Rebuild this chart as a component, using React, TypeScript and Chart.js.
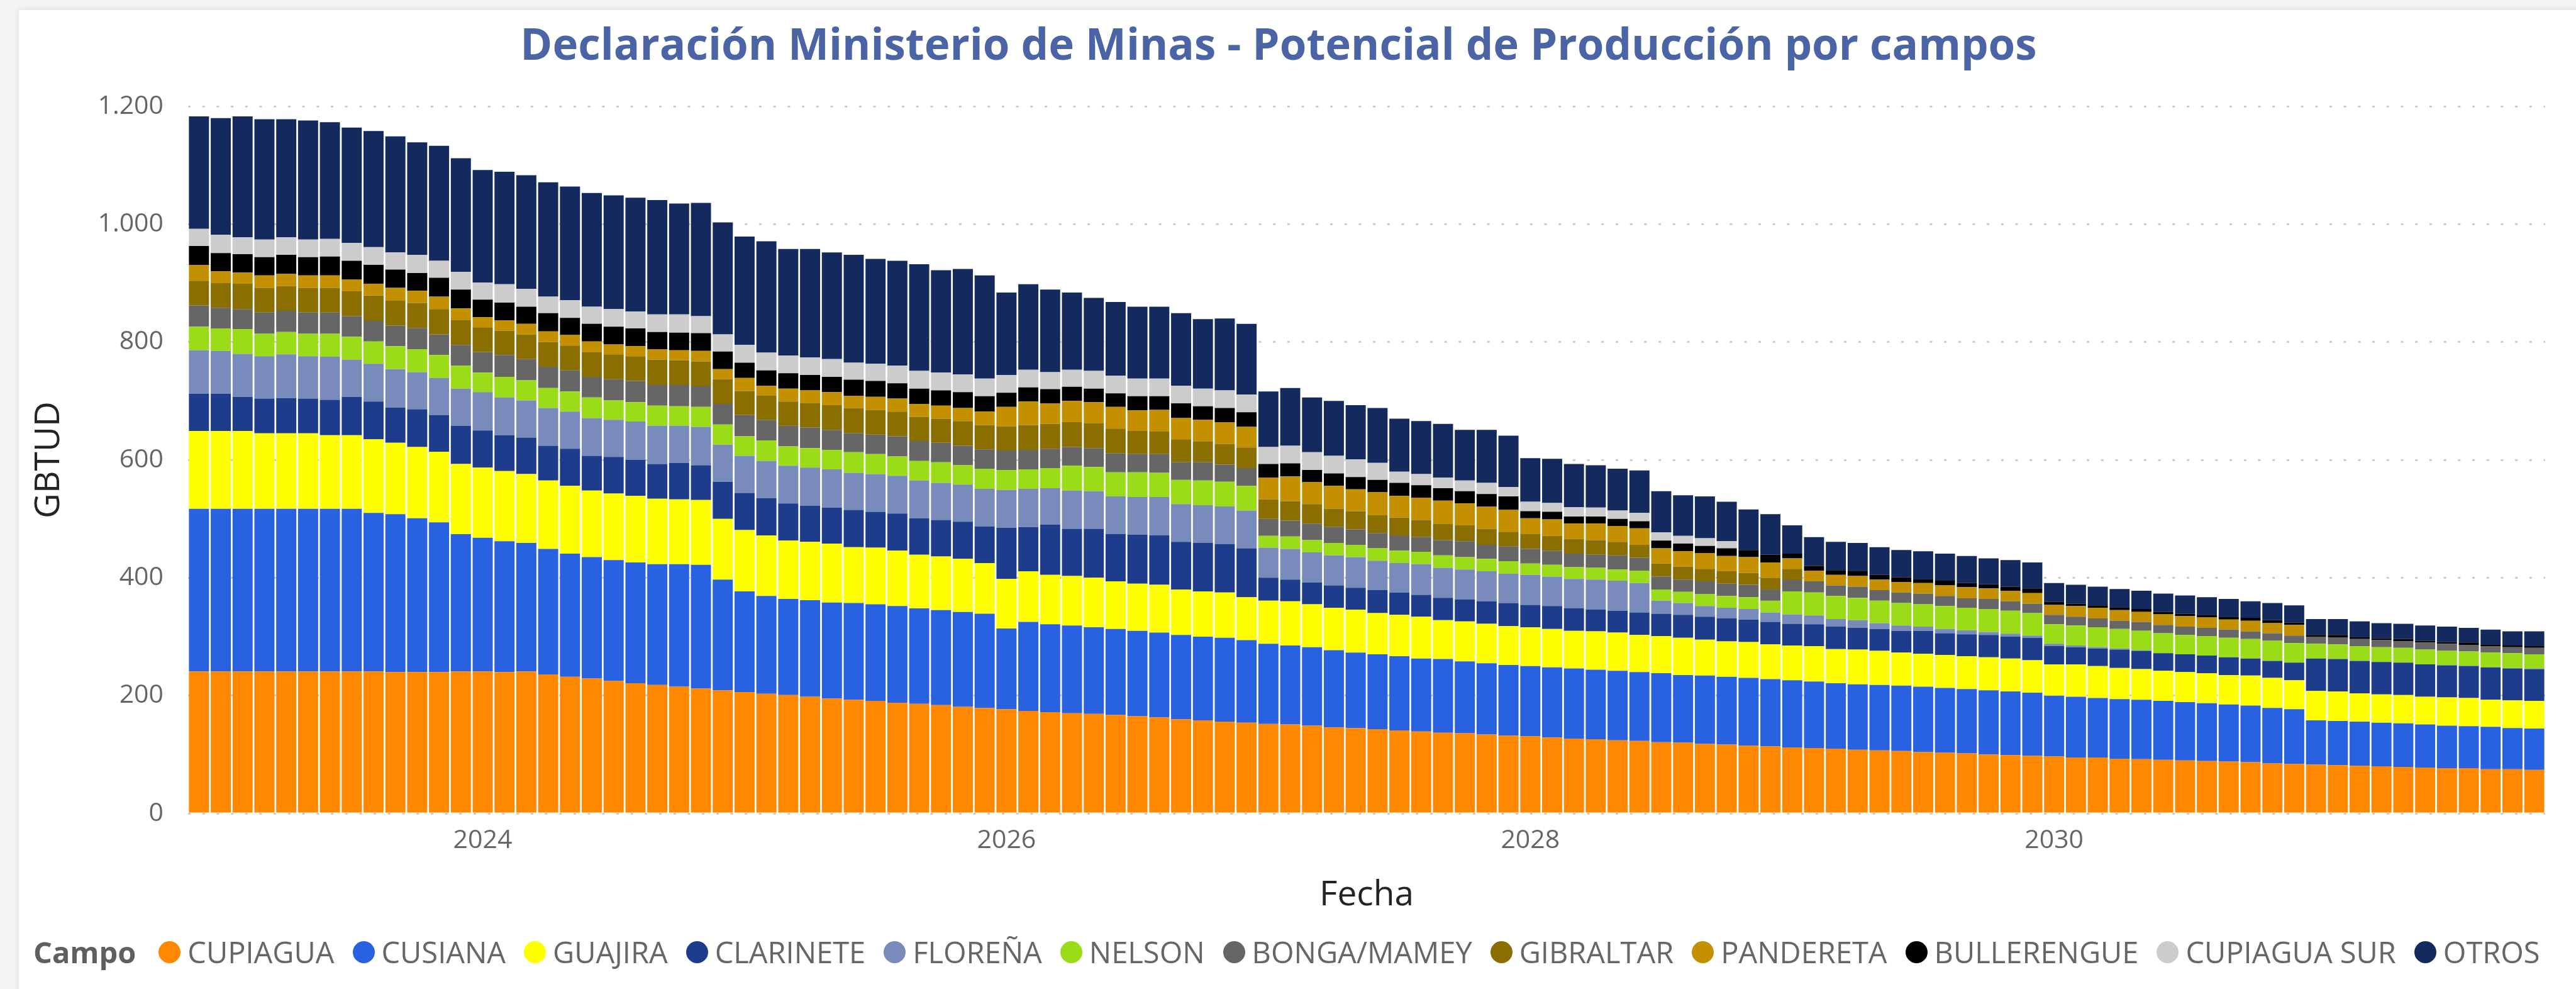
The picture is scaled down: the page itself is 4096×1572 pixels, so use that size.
import React, { useEffect, useRef } from "react";
import { Chart, registerables } from "chart.js";

Chart.register(...registerables);

// ---------- DATA ----------
const months = (
  "2022-12 " +
  "2023-01 2023-02 2023-03 2023-04 2023-05 2023-06 2023-07 2023-08 2023-09 2023-10 2023-11 2023-12 " +
  "2024-01 2024-02 2024-03 2024-04 2024-05 2024-06 2024-07 2024-08 2024-09 2024-10 2024-11 2024-12 " +
  "2025-01 2025-02 2025-03 2025-04 2025-05 2025-06 2025-07 2025-08 2025-09 2025-10 2025-11 2025-12 " +
  "2026-01 2026-02 2026-03 2026-04 2026-05 2026-06 2026-07 2026-08 2026-09 2026-10 2026-11 2026-12 " +
  "2027-01 2027-02 2027-03 2027-04 2027-05 2027-06 2027-07 2027-08 2027-09 2027-10 2027-11 2027-12 " +
  "2028-01 2028-02 2028-03 2028-04 2028-05 2028-06 2028-07 2028-08 2028-09 2028-10 2028-11 2028-12 " +
  "2029-01 2029-02 2029-03 2029-04 2029-05 2029-06 2029-07 2029-08 2029-09 2029-10 2029-11 2029-12 " +
  "2030-01 2030-02 2030-03 2030-04 2030-05 2030-06 2030-07 2030-08 2030-09 2030-10 2030-11 2030-12 " +
  "2031-01 2031-02 2031-03 2031-04 2031-05 2031-06 2031-07 2031-08 2031-09 2031-10 2031-11"
).split(" ");

const yearTickLabels = ["2024", "2026", "2028", "2030"];
const yTickValues = [0, 200, 400, 600, 800, 1000, 1200];

const CUPIAGUA = [
  241, 241, 241, 241, 241, 241, 241, 241, 241, 240, 240, 240, 241, 241, 240, 241, 236, 232,
  229, 225, 221, 218, 215, 212, 209, 206, 203, 201, 198, 195, 193, 191, 188, 186, 184, 181,
  179, 177, 174, 172, 170, 169, 167, 165, 163, 160, 158, 156, 154, 152, 151, 149, 146, 145,
  143, 141, 139, 137, 136, 134, 132, 131, 129, 127, 126, 124, 123, 121, 120, 118, 117, 115,
  114, 112, 111, 110, 108, 107, 106, 104, 103, 102, 100, 99, 98, 97, 95, 95, 93, 92,
  91, 90, 89, 88, 87, 85, 84, 83, 82, 81, 80, 79, 78, 77, 77, 75, 75, 74,
];
const CUSIANA = [
  276, 276, 276, 276, 276, 276, 276, 276, 269, 268, 261, 254, 233, 227, 222, 218, 213, 209,
  206, 205, 205, 205, 208, 210, 188, 171, 166, 163, 164, 163, 164, 164, 164, 162, 161, 161,
  160, 137, 151, 149, 149, 147, 146, 145, 144, 143, 142, 142, 140, 136, 134, 133, 131, 128,
  127, 126, 124, 125, 122, 121, 120, 119, 119, 119, 118, 118, 117, 117, 115, 116, 115, 115,
  114, 114, 113, 111, 111, 111, 111, 111, 110, 109, 109, 108, 107, 103, 103, 101, 101, 101,
  100, 99, 98, 97, 96, 94, 93, 75, 75, 75, 74, 74, 73, 72, 71, 72, 70, 70,
];
const GUAJIRA = [
  132, 132, 132, 128, 128, 128, 125, 125, 125, 121, 121, 120, 119, 119, 119, 117, 116, 115,
  113, 113, 113, 111, 110, 110, 103, 104, 103, 99, 99, 100, 95, 96, 94, 91, 91, 90,
  86, 84, 86, 84, 84, 84, 81, 80, 81, 77, 77, 77, 73, 73, 75, 73, 72, 73,
  70, 70, 71, 66, 68, 67, 66, 66, 65, 64, 65, 65, 63, 63, 63, 61, 60, 61,
  59, 59, 60, 58, 59, 58, 56, 56, 56, 56, 56, 56, 55, 53, 55, 54, 53, 52,
  51, 51, 51, 50, 51, 51, 49, 50, 50, 48, 48, 48, 47, 48, 48, 46, 47, 47,
];
const CLARINETE = [
  63, 63, 58, 59, 60, 59, 60, 65, 64, 60, 64, 62, 65, 63, 61, 62, 59, 63,
  59, 62, 61, 59, 62, 59, 63, 63, 63, 63, 61, 61, 63, 61, 63, 62, 62, 63,
  62, 87, 75, 85, 80, 83, 80, 83, 84, 81, 82, 82, 83, 39, 37, 37, 38, 37,
  39, 38, 37, 38, 37, 38, 39, 38, 39, 38, 37, 37, 38, 38, 39, 39, 39, 38,
  38, 37, 37, 38, 37, 37, 37, 39, 37, 37, 38, 37, 38, 31, 29, 30, 31, 31,
  30, 30, 30, 30, 29, 29, 30, 55, 55, 55, 55, 55, 55, 54, 54, 55, 54, 54,
];
const FLORENA = [
  74, 73, 73, 72, 74, 72, 73, 63, 64, 65, 63, 63, 63, 65, 64, 63, 64, 63,
  64, 63, 65, 65, 63, 65, 63, 63, 63, 64, 65, 65, 63, 64, 64, 64, 63, 63,
  64, 64, 65, 62, 65, 64, 64, 64, 65, 64, 64, 64, 64, 51, 52, 51, 51, 52,
  50, 50, 52, 51, 51, 51, 50, 51, 50, 50, 51, 51, 50, 22, 20, 18, 18, 18,
  16, 16, 15, 13, 13, 10, 9, 7, 7, 7, 5, 5, 4, 4, 3, 2, 2, 1,
  0, 0, 0, 0, 0, 0, 0, 0, 0, 0, 0, 0, 0, 1, 1, 0, 1, 1,
];
const NELSON = [
  40, 38, 42, 38, 38, 38, 39, 39, 38, 39, 39, 39, 39, 33, 35, 34, 34, 34,
  35, 33, 33, 34, 33, 34, 34, 33, 35, 33, 33, 33, 35, 34, 33, 33, 35, 33,
  34, 34, 33, 34, 42, 41, 41, 42, 41, 41, 42, 42, 42, 20, 21, 21, 21, 21,
  21, 21, 21, 21, 21, 21, 21, 19, 20, 20, 20, 19, 21, 19, 19, 20, 20, 20,
  20, 39, 39, 39, 38, 38, 38, 38, 39, 38, 39, 39, 38, 33, 34, 34, 33, 33,
  34, 33, 33, 33, 33, 34, 33, 25, 25, 25, 25, 25, 25, 24, 24, 25, 25, 24,
];
const BONGA_MAMEY = [
  36, 35, 34, 36, 36, 36, 36, 35, 35, 35, 36, 35, 35, 35, 37, 36, 36, 36,
  35, 36, 36, 35, 36, 35, 35, 36, 35, 35, 35, 34, 32, 33, 34, 34, 33, 33,
  33, 33, 33, 33, 32, 32, 32, 31, 32, 30, 31, 29, 30, 29, 27, 28, 27, 26,
  26, 26, 25, 26, 27, 24, 25, 25, 24, 23, 22, 24, 22, 22, 21, 22, 21, 21,
  19, 19, 19, 18, 19, 18, 18, 18, 17, 16, 17, 16, 16, 16, 15, 15, 14, 15,
  14, 14, 14, 14, 13, 13, 13, 12, 12, 12, 12, 11, 12, 12, 11, 11, 10, 11,
];
const GIBRALTAR = [
  42, 42, 43, 42, 42, 42, 42, 42, 43, 42, 42, 43, 42, 42, 41, 42, 42, 42,
  42, 42, 42, 43, 42, 42, 42, 41, 41, 41, 41, 42, 43, 42, 42, 41, 41, 42,
  41, 41, 42, 42, 42, 42, 42, 39, 38, 39, 35, 35, 35, 33, 33, 33, 31, 31,
  30, 30, 29, 27, 27, 27, 25, 25, 25, 25, 25, 23, 22, 22, 22, 21, 21, 20,
  20, 19, 0, 0, 0, 0, 0, 0, 0, 0, 0, 0, 0, 0, 0, 0, 0, 0,
  0, 0, 0, 0, 0, 0, 0, 0, 0, 0, 0, 0, 0, 0, 0, 0, 0, 0,
];
const PANDERETA = [
  27, 20, 19, 21, 21, 21, 21, 20, 20, 22, 21, 21, 20, 17, 18, 18, 18, 18,
  18, 17, 17, 18, 17, 18, 17, 22, 17, 22, 22, 22, 21, 22, 22, 22, 22, 22,
  23, 33, 40, 35, 36, 36, 37, 35, 37, 36, 37, 37, 35, 37, 42, 37, 39, 37,
  39, 37, 38, 40, 37, 38, 37, 27, 28, 26, 28, 27, 28, 26, 26, 27, 26, 27,
  26, 18, 18, 18, 18, 18, 18, 18, 18, 19, 18, 18, 18, 17, 18, 18, 18, 17,
  18, 18, 18, 17, 18, 17, 18, 0, 0, 0, 0, 0, 0, 0, 0, 0, 0, 0,
];
const BULLERENGUE = [
  32, 31, 31, 31, 32, 31, 32, 32, 32, 31, 30, 32, 32, 30, 30, 29, 31, 29,
  30, 30, 30, 29, 30, 30, 30, 26, 26, 26, 26, 26, 27, 27, 26, 26, 26, 27,
  26, 24, 24, 24, 24, 23, 23, 24, 23, 25, 23, 24, 25, 23, 22, 21, 21, 21,
  21, 22, 21, 21, 21, 21, 23, 12, 13, 12, 12, 12, 12, 13, 13, 12, 13, 12,
  13, 8, 8, 8, 8, 8, 8, 7, 8, 7, 7, 7, 8, 5, 4, 4, 5, 5,
  4, 4, 4, 5, 5, 5, 4, 3, 4, 3, 3, 4, 3, 3, 4, 3, 3, 3,
];
const CUPIAGUA_SUR = [
  29, 31, 29, 30, 30, 30, 30, 30, 30, 29, 31, 29, 30, 29, 31, 30, 28, 30,
  29, 30, 29, 30, 31, 29, 29, 30, 30, 30, 30, 30, 29, 29, 30, 30, 30, 30,
  30, 30, 30, 29, 29, 30, 30, 30, 30, 30, 30, 30, 30, 29, 30, 30, 30, 30,
  29, 19, 19, 18, 18, 19, 16, 16, 15, 16, 15, 14, 14, 14, 13, 13, 12, 0,
  0, 0, 0, 0, 0, 0, 0, 0, 0, 0, 0, 0, 0, 0, 0, 0, 0, 0,
  0, 0, 0, 0, 0, 0, 0, 0, 0, 0, 0, 0, 0, 0, 0, 0, 0, 0,
];
const OTROS = [
  191, 198, 205, 204, 200, 202, 198, 196, 197, 197, 191, 195, 193, 191, 191, 193, 194, 193,
  193, 193, 193, 194, 188, 192, 190, 184, 189, 181, 184, 181, 183, 178, 178, 181, 174, 179,
  175, 140, 145, 140, 131, 124, 125, 122, 122, 123, 118, 122, 120, 94, 98, 93, 93, 92,
  93, 90, 90, 91, 86, 90, 87, 74, 75, 73, 72, 71, 72, 70, 69, 71, 67, 69,
  69, 48, 49, 48, 48, 47, 46, 47, 46, 46, 44, 45, 44, 32, 32, 32, 31, 31,
  31, 31, 30, 30, 28, 29, 29, 27, 27, 27, 26, 26, 26, 26, 25, 25, 24, 25,
];

const seriesNames = [
  "CUPIAGUA", "CUSIANA", "GUAJIRA", "CLARINETE", "FLOREÑA", "NELSON",
  "BONGA/MAMEY", "GIBRALTAR", "PANDERETA", "BULLERENGUE", "CUPIAGUA SUR", "OTROS",
];
const seriesValues = [
  CUPIAGUA, CUSIANA, GUAJIRA, CLARINETE, FLORENA, NELSON,
  BONGA_MAMEY, GIBRALTAR, PANDERETA, BULLERENGUE, CUPIAGUA_SUR, OTROS,
];
const seriesColors = [
  "#FF8800", "#2962E0", "#FFFF00", "#1D3C8C", "#788BBB", "#9BDC18",
  "#666666", "#8B6E00", "#C49000", "#000000", "#CCCCCC", "#142A5F",
];

const chartTitle = "Declaración Ministerio de Minas - Potencial de Producción por campos";
const xAxisTitle = "Fecha";
const yAxisTitle = "GBTUD";
const legendTitle = "Campo";

// ---------- LAYOUT (output px) ----------
const W = 4096;
const H = 1572;
const FONT = "'Open Sans', 'Noto Sans', sans-serif";

function formatThousands(v: number): string {
  if (v >= 1000) {
    const th = Math.floor(v / 1000);
    const rest = String(v % 1000).padStart(3, "0");
    return `${th}.${rest}`;
  }
  return String(v);
}

export default function App() {
  const canvasRef = useRef<HTMLCanvasElement | null>(null);

  useEffect(() => {
    const canvas = canvasRef.current;
    if (!canvas) return;
    Chart.defaults.font.family = FONT;

    const chart = new Chart(canvas, {
      type: "bar",
      data: {
        labels: months,
        datasets: seriesNames.map((name, i) => ({
          label: name,
          data: seriesValues[i],
          backgroundColor: seriesColors[i],
          borderWidth: 0,
          barPercentage: 0.92,
          categoryPercentage: 1.0,
        })),
      },
      options: {
        animation: false,
        responsive: false,
        maintainAspectRatio: false,
        devicePixelRatio: 1,
        layout: { padding: { left: 0, top: 169, right: 49, bottom: 116 } },
        plugins: {
          legend: { display: false },
          title: { display: false },
          tooltip: { enabled: false },
        },
        scales: {
          x: {
            stacked: true,
            offset: true,
            grid: { display: false, drawTicks: false },
            border: { display: false },
            ticks: {
              autoSkip: false,
              maxRotation: 0,
              minRotation: 0,
              padding: 19,
              color: "#666666",
              font: { size: 41 },
              callback: (_v: any, index: number) => {
                const m = months[index];
                const y = m.slice(0, 4);
                return m.endsWith("-01") && yearTickLabels.includes(y) ? y : "";
              },
            },
            title: {
              display: true,
              text: xAxisTitle,
              color: "#252423",
              font: { size: 55 },
              padding: { top: 0, bottom: 0 },
            },
            afterFit: (scale: any) => {
              scale.height = 163;
            },
          },
          y: {
            stacked: true,
            min: 0,
            max: 1200,
            grid: {
              color: "#C8C8C8",
              lineWidth: 2.8,
              drawTicks: false,
            },
            border: { display: false, dash: [4, 18.7] },
            ticks: {
              stepSize: 200,
              padding: 39,
              color: "#666666",
              font: { size: 41 },
              callback: (v: any) =>
                yTickValues.includes(Number(v)) ? formatThousands(Number(v)) : "",
            },
            title: {
              display: true,
              text: yAxisTitle,
              color: "#252423",
              font: { size: 55 },
              padding: { top: 45, bottom: 0 },
            },
            afterFit: (scale: any) => {
              scale.width = 299;
            },
          },
        },
      } as any,
    });

    return () => {
      chart.destroy();
    };
  }, []);

  return (
    <div
      style={{
        position: "fixed",
        left: 0,
        top: 0,
        width: W,
        height: H,
        overflow: "hidden",
        background: "#F4F4F4",
        fontFamily: FONT,
      }}
    >
      <div
        style={{
          position: "absolute",
          left: 30,
          top: 16,
          width: W + 40,
          height: H + 40,
          background: "#FFFFFF",
          boxShadow: "0 0 10px rgba(0,0,0,0.10)",
        }}
      />
      <canvas
        ref={canvasRef}
        width={W}
        height={H}
        style={{ position: "absolute", left: 0, top: 0, width: W, height: H }}
      />
      <div
        style={{
          position: "absolute",
          left: 0,
          width: 4066,
          top: 34,
          height: 69,
          lineHeight: "69px",
          fontSize: 69,
          fontWeight: 700,
          color: "#4A64A5",
          textAlign: "center",
          whiteSpace: "nowrap",
        }}
      >
        {chartTitle}
      </div>
      <div
        style={{
          position: "absolute",
          left: 53,
          top: 1490,
          height: 47,
          display: "flex",
          alignItems: "center",
          fontSize: 47,
          lineHeight: "47px",
          color: "#666666",
          whiteSpace: "nowrap",
        }}
      >
        <span style={{ fontWeight: 700, color: "#5F5F5F", marginRight: 36 }}>{legendTitle}</span>
        {seriesNames.map((name, i) => (
          <span
            key={name}
            style={{
              display: "flex",
              alignItems: "center",
              marginRight: i < seriesNames.length - 1 ? 29 : 0,
            }}
          >
            <span
              style={{
                display: "inline-block",
                width: 35,
                height: 35,
                borderRadius: "50%",
                background: seriesColors[i],
                marginRight: 11,
              }}
            />
            <span>{name}</span>
          </span>
        ))}
      </div>
    </div>
  );
}
